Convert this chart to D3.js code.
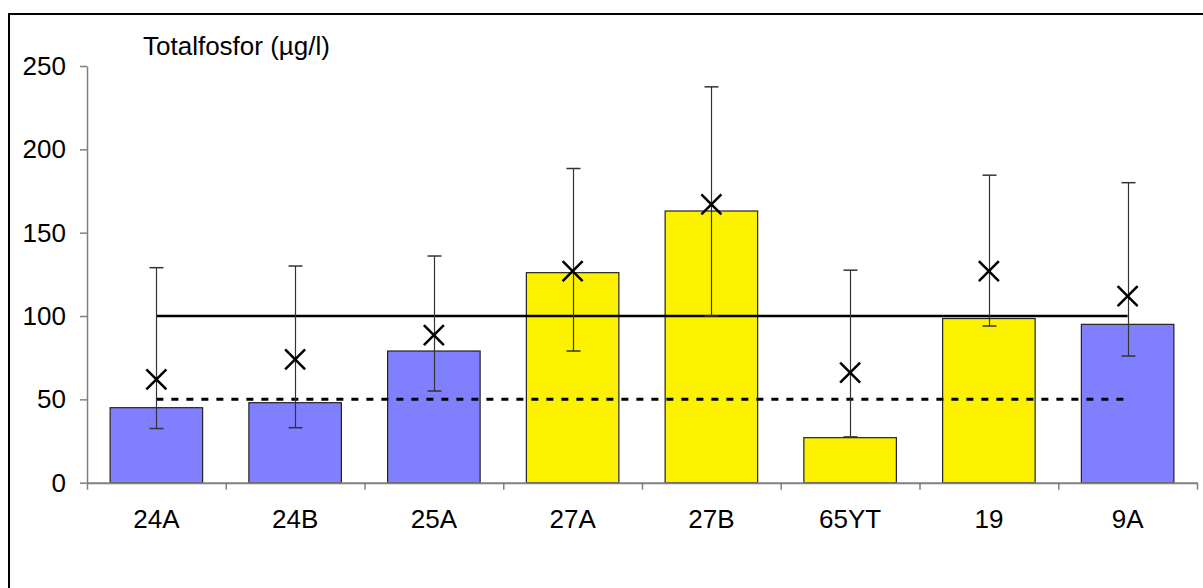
<!DOCTYPE html>
<html>
<head>
<meta charset="utf-8">
<script src="https://cdn.jsdelivr.net/npm/d3@7"></script>
<style>
  html, body { margin: 0; padding: 0; background: #fff; }
  svg { display: block; }
  text { font-family: Arial, "Liberation Sans", sans-serif; fill: #000; }
</style>
</head>
<body>
<svg id="chart" width="1203" height="588"></svg>
<script>
// Stations and measured total phosphorus (µg/l)
const categories = ["24A", "24B", "25A", "27A", "27B", "65YT", "19", "9A"];
const barValues  = [45, 48, 79, 126, 163, 27, 98.5, 95];
const barGroup   = ["blue", "blue", "blue", "yellow", "yellow", "yellow", "yellow", "blue"];
const rangeLow   = [32.5, 33, 55, 79, 100, 27.5, 94, 76];
const rangeHigh  = [129, 130, 136, 188.5, 237.5, 127.5, 184.5, 180];
const meanValues = [62, 74, 88.5, 127, 167, 66, 127, 112];
const yTicks     = [0, 50, 100, 150, 200, 250];
const limitSolid  = 100;
const limitDashed = 50;
const titleText  = "Totalfosfor (µg/l)";

const colors = { blue: "#8080FF", yellow: "#FCF200" };

const svg = d3.select("#chart");

// frame around the chart area
svg.append("rect")
  .attr("x", 9).attr("y", 14)
  .attr("width", 1220).attr("height", 620)
  .attr("fill", "none").attr("stroke", "#000").attr("stroke-width", 2);

const x = d3.scaleBand().domain(categories).range([87, 1197]).padding(0);
const xPos = d3.scaleLinear().domain([0, categories.length]).range([87, 1197]);
const y = d3.scaleLinear().domain([0, 250]).range([482.7, 66]);

const barW = x.bandwidth() * 2 / 3;
const cx = c => x(c) + x.bandwidth() / 2;

// y axis
const yAxis = svg.append("g")
  .attr("transform", "translate(87,0)")
  .call(d3.axisLeft(y).tickValues(yTicks).tickFormat(d3.format("d"))
    .tickSize(7).tickSizeOuter(0).tickPadding(14));
yAxis.select(".domain").attr("stroke", "#808080").attr("stroke-width", 1.5);
yAxis.selectAll(".tick line").attr("stroke", "#808080").attr("stroke-width", 1.5);
yAxis.selectAll("text").style("font-size", "26px").style("font-family", "Arial, 'Liberation Sans', sans-serif").attr("fill", "#000");

// bars
svg.append("g").selectAll("rect")
  .data(categories)
  .join("rect")
  .attr("x", (c) => cx(c) - barW / 2)
  .attr("width", barW)
  .attr("y", (c, i) => y(barValues[i]))
  .attr("height", (c, i) => y(0) - y(barValues[i]))
  .attr("fill", (c, i) => colors[barGroup[i]])
  .attr("stroke", "#222")
  .attr("stroke-width", 1.2);

// x axis: boundary ticks between categories
const xAxis = svg.append("g")
  .attr("transform", `translate(0,${y(0)})`)
  .call(d3.axisBottom(xPos).tickValues(d3.range(categories.length + 1))
    .tickFormat("").tickSize(7).tickSizeOuter(0));
xAxis.select(".domain").attr("stroke", "#808080").attr("stroke-width", 2);
xAxis.selectAll(".tick line").attr("stroke", "#808080").attr("stroke-width", 1.5);

// category labels
const xLabels = svg.append("g")
  .attr("transform", `translate(0,${y(0)})`)
  .call(d3.axisBottom(x).tickSize(0).tickPadding(27));
xLabels.select(".domain").remove();
xLabels.selectAll("text").style("font-size", "26px").style("font-family", "Arial, 'Liberation Sans', sans-serif").attr("fill", "#000");

// reference lines
const x0 = cx(categories[0]);
const x1 = cx(categories[categories.length - 1]);
svg.append("line")
  .attr("x1", x0).attr("x2", x1)
  .attr("y1", y(limitSolid)).attr("y2", y(limitSolid))
  .attr("stroke", "#000").attr("stroke-width", 2.5);
svg.append("line")
  .attr("x1", x0).attr("x2", x1)
  .attr("y1", y(limitDashed)).attr("y2", y(limitDashed))
  .attr("stroke", "#000").attr("stroke-width", 3)
  .attr("stroke-dasharray", "7,8");

// range whiskers
const capW = 7;
const whisk = svg.append("g").attr("stroke", "#333");
categories.forEach((c, i) => {
  const px = Math.round(cx(c)) + 0.5;
  whisk.append("line")
    .attr("x1", px).attr("x2", px)
    .attr("y1", y(rangeLow[i])).attr("y2", y(rangeHigh[i]))
    .attr("stroke-width", 1.2);
  [rangeLow[i], rangeHigh[i]].forEach(v => {
    whisk.append("line")
      .attr("x1", px - capW).attr("x2", px + capW)
      .attr("y1", y(v)).attr("y2", y(v))
      .attr("stroke-width", 1.5);
  });
});

// mean markers
const m = 10;
const marks = svg.append("g").attr("stroke", "#000").attr("stroke-width", 2.5);
categories.forEach((c, i) => {
  const px = cx(c), py = y(meanValues[i]);
  marks.append("path")
    .attr("d", `M${px - m},${py - m}L${px + m},${py + m}M${px - m},${py + m}L${px + m},${py - m}`)
    .attr("fill", "none");
});

// title
svg.append("text")
  .attr("x", 143).attr("y", 55)
  .style("font-size", "26px")
  .text(titleText);
</script>
</body>
</html>
